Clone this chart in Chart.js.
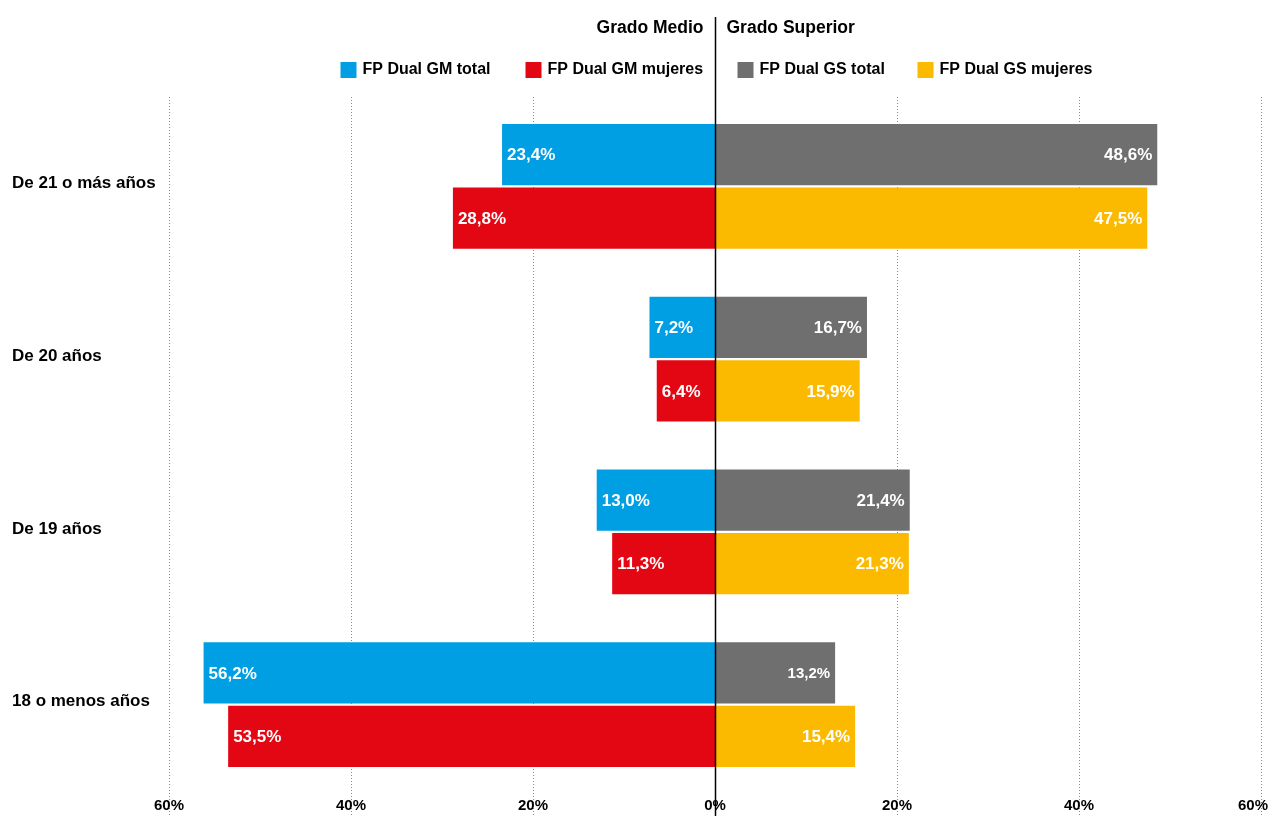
<!DOCTYPE html>
<html lang="es">
<head>
<meta charset="utf-8">
<script src="https://cdn.jsdelivr.net/npm/chart.js@4.4.1/dist/chart.umd.min.js"></script>
<style>
  html, body { margin: 0; padding: 0; background: #fff; }
  #wrap { width: 1269px; height: 816px; }
</style>
</head>
<body>
<div id="wrap"><canvas id="dualChart" width="1269" height="816"></canvas></div>
<script>
// Data

const ageGroups = ['De 21 o más años', 'De 20 años', 'De 19 años', '18 o menos años'];
const gmTotal = [23.4, 7.2, 13.0, 56.2];
const gmMujeres = [28.8, 6.4, 11.3, 53.5];
const gsTotal = [48.6, 16.7, 21.4, 13.2];
const gsMujeres = [47.5, 15.9, 21.3, 15.4];
const xTicks = [-60, -40, -20, 0, 20, 40, 60];

const FONT = '"Liberation Sans", Arial, sans-serif';
const fmt = v => Math.abs(v).toFixed(1).replace('.', ',') + '%';

// Overlay: grid, labels, legend, zero line

const overlay = {
    id: 'overlay',
    beforeDatasetsDraw(chart) {
        const { ctx, scales: { x } } = chart;
        ctx.save();
        ctx.strokeStyle = '#8a8a8a';
        ctx.lineWidth = 1;
        ctx.setLineDash([1, 2]);
        xTicks.forEach(t => {
            if (t === 0) return;
            const px = Math.round(x.getPixelForValue(t)) + 0.5;
            ctx.beginPath();
            ctx.moveTo(px, 97);
            ctx.lineTo(px, 816);
            ctx.stroke();
        });
        ctx.restore();
    },
    afterDatasetsDraw(chart) {
        const { ctx, width, scales: { x, y } } = chart;
        ctx.save();

        // values inside the bars
        ctx.fillStyle = '#fff';
        ctx.textBaseline = 'middle';
        chart.data.datasets.forEach((ds, i) => {
            chart.getDatasetMeta(i).data.forEach((bar, j) => {
                const v = ds.data[j];
                const { x: bx, y: by } = bar.getProps(['x', 'y'], true);
                const small = (i === 1 && j === 3);
                ctx.font = `bold ${small ? 15 : 17}px ${FONT}`;
                if (v < 0) {
                    ctx.textAlign = 'left';
                    ctx.fillText(fmt(v), bx + 5, by + 1);
                } else {
                    ctx.textAlign = 'right';
                    ctx.fillText(fmt(v), bx - 5, by + 1);
                }
            });
        });

        // zero line
        const x0 = Math.round(x.getPixelForValue(0)) + 0.5;
        ctx.strokeStyle = '#000';
        ctx.lineWidth = 1.5;
        ctx.beginPath();
        ctx.moveTo(x0, 17);
        ctx.lineTo(x0, 816);
        ctx.stroke();

        // category labels
        ctx.fillStyle = '#000';
        ctx.textAlign = 'left';
        ctx.font = `bold 17px ${FONT}`;
        ageGroups.forEach((g, j) => {
            ctx.fillText(g, 12, y.getPixelForValue(j) - 3);
        });

        // x tick labels
        ctx.textAlign = 'center';
        ctx.font = `bold 15px ${FONT}`;
        xTicks.forEach(t => {
            const txt = Math.abs(t) + '%';
            const w = ctx.measureText(txt).width;
            const px = Math.min(x.getPixelForValue(t), width - w / 2 - 1);
            ctx.fillText(txt, px, 806);
        });

        // titles
        ctx.font = `bold 17.5px ${FONT}`;
        ctx.textAlign = 'right';
        ctx.fillText('Grado Medio', x0 - 12, 28);
        ctx.textAlign = 'left';
        ctx.fillText('Grado Superior', x0 + 11, 28);

        // legend
        const legendItems = [
            { ds: 0, off: -375 },
            { ds: 2, off: -190 },
            { ds: 1, off: 22 },
            { ds: 3, off: 202 }
        ];
        ctx.font = `bold 16px ${FONT}`;
        legendItems.forEach(it => {
            const ds = chart.data.datasets[it.ds];
            const lx = x0 + it.off;
            ctx.fillStyle = ds.backgroundColor;
            ctx.fillRect(lx, 62, 16, 16);
            ctx.fillStyle = '#000';
            ctx.fillText(ds.label, lx + 22, 70);
        });

        ctx.restore();
    }
};

// Chart

new Chart(document.getElementById('dualChart'), {
    type: 'bar',
    data: {
        labels: ageGroups,
        datasets: [
            { label: 'FP Dual GM total', data: gmTotal.map(v => -v), backgroundColor: '#009fe3', stack: 'total' },
            { label: 'FP Dual GS total', data: gsTotal, backgroundColor: '#6f6f6f', stack: 'total' },
            { label: 'FP Dual GM mujeres', data: gmMujeres.map(v => -v), backgroundColor: '#e30613', stack: 'mujeres' },
            { label: 'FP Dual GS mujeres', data: gsMujeres, backgroundColor: '#fbba00', stack: 'mujeres' }
        ]
    },
    options: {
        responsive: false,
        animation: false,
        indexAxis: 'y',
        categoryPercentage: 0.735,
        barPercentage: 0.965,
        layout: { padding: { left: 169, right: 8, top: 100, bottom: 25 } },
        scales: {
            x: { min: -60, max: 60, stacked: true, display: false },
            y: { stacked: true, display: false }
        },
        plugins: {
            legend: { display: false },
            tooltip: { callbacks: { label: c => `${c.dataset.label}: ${fmt(c.parsed.x)}` } }
        }
    },
    plugins: [overlay]
});
</script>
</body>
</html>
